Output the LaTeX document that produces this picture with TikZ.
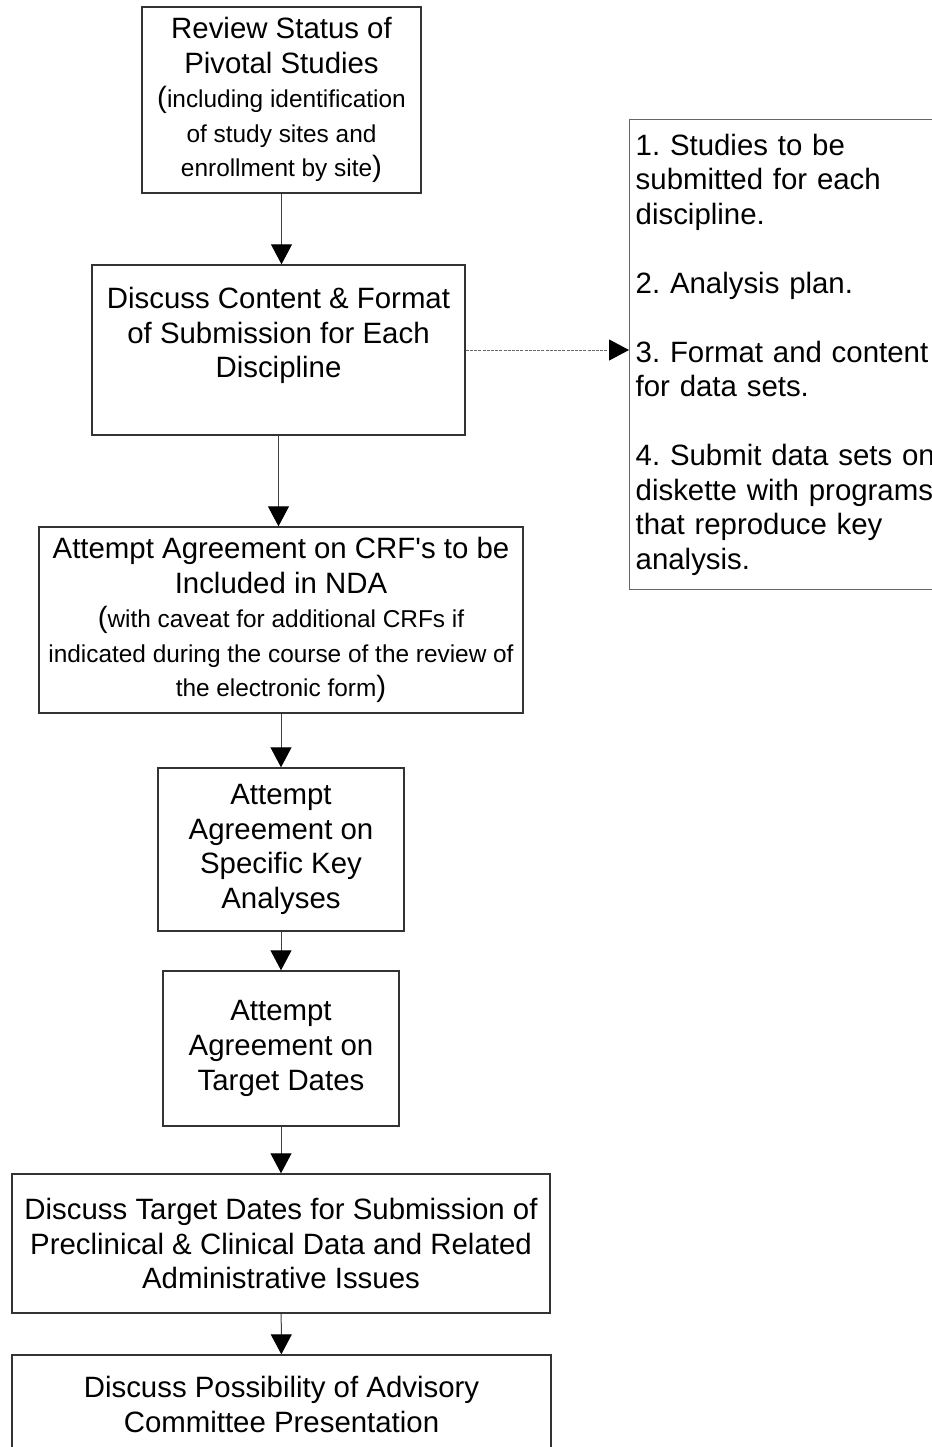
\documentclass[tikz,border=0pt]{standalone}
\usepackage{fontspec}
\setmainfont{Liberation Sans}
\usetikzlibrary{arrows.meta}
\pgfdeclarelayer{edgelayer}
\pgfdeclarelayer{nodelayer}
\pgfsetlayers{edgelayer,nodelayer,main}
\frenchspacing
\newcommand{\bigtext}{\fontsize{14.7}{17.3}\selectfont}
\newcommand{\smalltext}{\fontsize{12.2}{15}\selectfont}
\tikzstyle{none}=[inner sep=0pt]
\tikzstyle{box}=[rectangle,fill=white,draw=black!80,line width=0.7pt,inner sep=0pt,align=center,font=\bigtext]
\tikzstyle{listbox}=[rectangle,fill=white,draw=black!60,line width=0.7pt,inner xsep=3pt,inner ysep=0pt,align=left,font=\bigtext]
\tikzstyle{flow}=[-{Triangle[length=10pt,width=10.5pt,black]},draw=black!75,line width=0.5pt]
\tikzstyle{dotflow}=[-{Triangle[length=10pt,width=10.5pt,black]},draw=black!60,line width=0.5pt,dash pattern=on 1.5pt off 0.6pt]

\begin{document}
\begin{tikzpicture}[x=0.5pt,y=-0.5pt]
	\useasboundingbox (0, 0) rectangle (932, 1447);
	\begin{pgfonlayer}{nodelayer}
		\node [style=box, minimum width=139.5pt, minimum height=93pt] (0) at (281.5, 100) {Review Status of\\Pivotal Studies\\({\smalltext including identification}\\{\smalltext of study sites and}\\{\smalltext enrollment by site})};
		\node [style=box, minimum width=186.5pt, minimum height=85pt] (1) at (278.5, 350) {Discuss Content \& Format\\of Submission for Each\\Discipline\\\mbox{}};
		\node [style=box, minimum width=242pt, minimum height=93pt] (2) at (281, 620) {Attempt Agreement on CRF\textquotesingle s to be\\Included in NDA\\({\smalltext with caveat for additional CRFs if}\\{\smalltext indicated during the course of the review of}\\{\smalltext the electronic form})};
		\node [style=box, minimum width=123pt, minimum height=81.5pt] (3) at (281, 849.5) {Attempt\\Agreement on\\Specific Key\\Analyses};
		\node [style=box, minimum width=118pt, minimum height=77.5pt] (4) at (281, 1048.5) {Attempt\\Agreement on\\Target Dates};
		\node [style=box, minimum width=269pt, minimum height=69.5pt] (5) at (281, 1243.5) {Discuss Target Dates for Submission of\\Preclinical \& Clinical Data and Related\\Administrative Issues};
		\node [style=box, minimum width=269.5pt, minimum height=49.5pt] (6) at (281.5, 1404.5) {Discuss Possibility of Advisory\\Committee Presentation};
		\node [style=listbox, text width=164.5pt, minimum height=235pt, anchor=north west] (7) at (629, 119) {1. Studies to be\\submitted for each\\discipline.\\[17.15pt]2. Analysis plan.\\[17.15pt]3. Format and content\\for data sets.\\[17.15pt]4. Submit data sets on\\diskette with programs\\that reproduce key\\analysis.};
	\end{pgfonlayer}
	\begin{pgfonlayer}{edgelayer}
		\draw [style=flow] (0.south) to (0.south |- 1.north);
		\draw [style=flow] (1.south) to (1.south |- 2.north);
		\draw [style=flow] (2) to (3);
		\draw [style=flow] (3) to (4);
		\draw [style=flow] (4) to (5);
		\draw [style=flow] (5) to (6);
		\draw [style=dotflow] (1.east) to (1.east -| 7.west);
	\end{pgfonlayer}
\end{tikzpicture}
\end{document}
